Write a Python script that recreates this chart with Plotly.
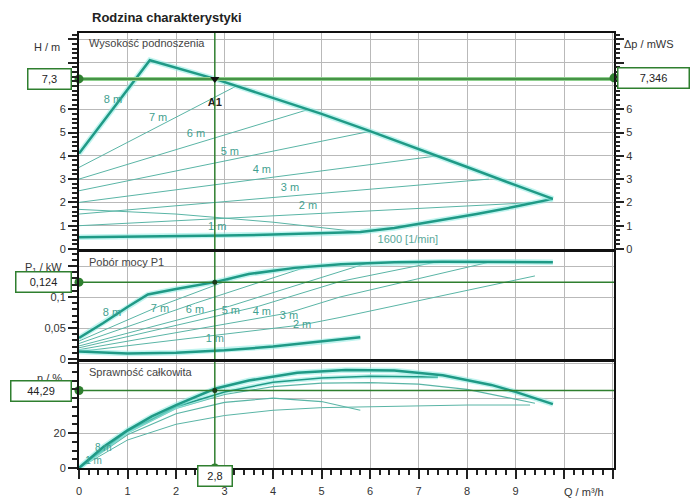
import plotly.graph_objects as go

# ---- operating point A1 ----
Q_OP = 2.8
H_OP = 7.3
DP_OP = 7.346
P_OP = 0.124
ETA_OP = 44.29

# ---- head H(Q) ----
q_h_max = [0, 1.46, 2.8, 4.0, 5.0, 6.0, 7.0, 8.0, 9.0, 9.77]
h_max = [4.1, 8.1, 7.3, 6.5, 5.8, 5.06, 4.3, 3.52, 2.74, 2.15]
q_h_min = [0, 1, 2, 3, 4, 5, 5.8, 6.5, 7.44, 8.2, 8.95, 9.77]
h_min = [0.5, 0.52, 0.55, 0.58, 0.62, 0.67, 0.73, 0.9, 1.22, 1.5, 1.8, 2.15]

q_h_set = {
    "7 m": [0, 3.25], "6 m": [0, 4.75], "5 m": [0, 6.0],
    "4 m": [0, 7.4], "3 m": [0, 8.45], "2 m": [0, 9.45],
}
h_set = {
    "7 m": [3.5, 7.0], "6 m": [3.0, 6.0], "5 m": [2.5, 5.05],
    "4 m": [2.0, 4.0], "3 m": [1.5, 3.0], "2 m": [1.0, 2.0],
}
q_h_low = [0, 2, 4, 5.8]
h_low = [1.7, 1.5, 1.15, 0.73]

# ---- power P1(Q) ----
q_p_max = [0, 0.5, 1.0, 1.42, 2.0, 2.8, 3.5, 4.45, 5.4, 6.5, 7.5, 8.5, 9.77]
p_max = [0.034, 0.058, 0.084, 0.104, 0.113, 0.124, 0.137, 0.147, 0.153, 0.156, 0.157, 0.157, 0.156]
q_p_min = [0, 1, 2, 3, 4, 5, 5.8]
p_min = [0.012, 0.009, 0.010, 0.014, 0.020, 0.028, 0.035]
q_p_set = {
    "7 m": [0, 1.65, 3.25], "6 m": [0, 2.4, 4.75], "5 m": [0, 3.1, 6.0],
    "4 m": [0, 3.7, 5.38, 7.4], "3 m": [0, 4.3, 5.38, 8.5], "2 m": [0, 4.6, 5.38, 9.4],
}
p_set = {
    "7 m": [0.029, 0.085, 0.132], "6 m": [0.025, 0.09, 0.150], "5 m": [0.021, 0.085, 0.156],
    "4 m": [0.018, 0.085, 0.125, 0.157], "3 m": [0.015, 0.074, 0.100, 0.157],
    "2 m": [0.012, 0.055, 0.067, 0.134],
}

# ---- overall efficiency ----
q_e_max = [0, 0.5, 1, 1.5, 2, 2.8, 3.5, 4.5, 5.5, 6.5, 7.5, 8.5, 9.0, 9.77]
e_max = [0, 12, 21.5, 29.5, 36, 45.3, 50, 54.5, 56, 55.8, 53, 47.5, 43.5, 36.5]
q_e_a = [0, 1, 2, 3, 4, 5, 6, 7, 8, 9.4]
e_a = [0, 20, 34, 42, 46.5, 48.5, 48.8, 48, 45, 37]
q_e_b = [0, 1, 2, 3, 4, 5, 6, 7.4]
e_b = [0, 21, 35, 43.5, 49, 51.5, 52.5, 52]
q_e_c = [0, 1, 2, 3, 4, 5, 6, 7, 8, 9.3]
e_c = [0, 16, 25, 30, 33, 34.5, 35, 35.5, 36, 36]
q_e_d = [0, 1, 2, 3, 4, 5, 5.8]
e_d = [0, 19, 31, 37.5, 40, 38, 33]

# ---- curve labels ----
h_lab_text = ["8 m", "7 m", "6 m", "5 m", "4 m", "3 m", "2 m", "1 m"]
h_lab_q = [0.70, 1.63, 2.41, 3.11, 3.77, 4.35, 4.72, 2.85]
h_lab_h = [6.4, 5.6, 4.94, 4.16, 3.39, 2.62, 1.85, 0.94]
p_lab_text = ["8 m", "7 m", "6 m", "5 m", "4 m", "3 m", "2 m", "1 m"]
p_lab_q = [0.68, 1.67, 2.39, 3.13, 3.77, 4.33, 4.6, 2.8]
p_lab_p = [0.074, 0.081, 0.079, 0.077, 0.076, 0.069, 0.055, 0.032]
e_lab_text = ["8 m", "1 m"]
e_lab_q = [0.5, 0.3]
e_lab_e = [11, 4]

# ---- styling ----
W, HGT = 692, 499
ML, MR, MT, MB = 79, 78, 33, 31
PW, PH = W - ML - MR, HGT - MT - MB
X_MAX = 11.03
Y1_MAX, Y2_MAX, Y3_MAX = 9.27, 0.1726, 60.6

TEAL = "#1f9a86"
TEAL_THIN = "#5ab5a6"
HALO = "rgba(140,235,225,0.55)"
GREEN = "#2f7f2f"
GRID = "#b9b9b9"
TXT = "#333333"
TICK = "#222222"
FONT = "Liberation Sans, Arial, sans-serif"


def fx(px):
    return (px - ML) / PW


def fy(py):
    return (HGT - MB - py) / PH


fig = go.Figure()


def curve(x, y, xa, ya, width, color, halo=False):
    if halo:
        fig.add_trace(go.Scatter(x=x, y=y, xaxis=xa, yaxis=ya, mode="lines",
                                 line=dict(color=HALO, width=width + 3),
                                 hoverinfo="skip", showlegend=False))
    fig.add_trace(go.Scatter(x=x, y=y, xaxis=xa, yaxis=ya, mode="lines",
                             line=dict(color=color, width=width),
                             hoverinfo="skip", showlegend=False))


# head panel
for k in q_h_set:
    curve(q_h_set[k], h_set[k], "x", "y", 1, TEAL_THIN)
curve(q_h_low, h_low, "x", "y", 1, TEAL_THIN)
curve(q_h_min, h_min, "x", "y", 2.5, TEAL, halo=True)
curve(q_h_max, h_max, "x", "y", 2.5, TEAL, halo=True)

# power panel
for k in q_p_set:
    curve(q_p_set[k], p_set[k], "x2", "y2", 1, TEAL_THIN)
curve(q_p_min, p_min, "x2", "y2", 2.5, TEAL, halo=True)
curve(q_p_max, p_max, "x2", "y2", 2.5, TEAL, halo=True)

# efficiency panel
curve(q_e_c, e_c, "x3", "y3", 1, TEAL_THIN)
curve(q_e_d, e_d, "x3", "y3", 1.2, TEAL_THIN)
curve(q_e_a, e_a, "x3", "y3", 1.2, TEAL_THIN)
curve(q_e_b, e_b, "x3", "y3", 1.5, TEAL, halo=True)
curve(q_e_max, e_max, "x3", "y3", 2.5, TEAL, halo=True)

# labels
lab_font = dict(family=FONT, size=11, color="#3f9f8f")
fig.add_trace(go.Scatter(x=h_lab_q, y=h_lab_h, xaxis="x", yaxis="y", mode="text",
                         text=h_lab_text, textfont=lab_font, showlegend=False, hoverinfo="skip"))
fig.add_trace(go.Scatter(x=p_lab_q, y=p_lab_p, xaxis="x2", yaxis="y2", mode="text",
                         text=p_lab_text, textfont=lab_font, showlegend=False, hoverinfo="skip"))
fig.add_trace(go.Scatter(x=e_lab_q, y=e_lab_e, xaxis="x3", yaxis="y3", mode="text",
                         text=e_lab_text, textfont=dict(family=FONT, size=10, color="#3f9f8f"),
                         showlegend=False, hoverinfo="skip"))
fig.add_trace(go.Scatter(x=[6.78], y=[0.39], xaxis="x", yaxis="y", mode="text",
                         text=["1600 [1/min]"], textfont=dict(family=FONT, size=11, color="#5aa89a"),
                         showlegend=False, hoverinfo="skip"))
fig.add_trace(go.Scatter(x=[Q_OP], y=[H_OP - 1.05], xaxis="x", yaxis="y", mode="text",
                         text=["<b>A1</b>"], textfont=dict(family=FONT, size=11, color="#222"),
                         showlegend=False, hoverinfo="skip"))

# operating point guide lines
fig.add_trace(go.Scatter(x=[0, X_MAX], y=[H_OP, H_OP], xaxis="x", yaxis="y", mode="lines",
                         line=dict(color="#8fcf8f", width=4), showlegend=False, hoverinfo="skip"))
fig.add_trace(go.Scatter(x=[0, X_MAX], y=[H_OP, H_OP], xaxis="x", yaxis="y", mode="lines",
                         line=dict(color=GREEN, width=1.5), showlegend=False, hoverinfo="skip"))
fig.add_trace(go.Scatter(x=[0, X_MAX], y=[P_OP, P_OP], xaxis="x2", yaxis="y2", mode="lines",
                         line=dict(color=GREEN, width=1.5), showlegend=False, hoverinfo="skip"))
fig.add_trace(go.Scatter(x=[0, X_MAX], y=[ETA_OP, ETA_OP], xaxis="x3", yaxis="y3", mode="lines",
                         line=dict(color=GREEN, width=1.5), showlegend=False, hoverinfo="skip"))
for xa, ya, top in (("x", "y", Y1_MAX), ("x2", "y2", Y2_MAX), ("x3", "y3", Y3_MAX)):
    fig.add_trace(go.Scatter(x=[Q_OP, Q_OP], y=[0, top], xaxis=xa, yaxis=ya, mode="lines",
                             line=dict(color=GREEN, width=1.5),
                             showlegend=False, hoverinfo="skip"))

dot = dict(color=GREEN, size=9)
fig.add_trace(go.Scatter(x=[0], y=[H_OP], xaxis="x", yaxis="y", mode="markers",
                         marker=dot, cliponaxis=False, showlegend=False, hoverinfo="skip"))
# differential pressure read-out on the right-hand scale
fig.add_trace(go.Scatter(x=[X_MAX], y=[DP_OP], xaxis="x", yaxis="y4", mode="markers",
                         marker=dot, cliponaxis=False, showlegend=False, hoverinfo="skip"))
fig.add_trace(go.Scatter(x=[0], y=[P_OP], xaxis="x2", yaxis="y2", mode="markers",
                         marker=dot, cliponaxis=False, showlegend=False, hoverinfo="skip"))
fig.add_trace(go.Scatter(x=[0, Q_OP], y=[ETA_OP, 0], xaxis="x3", yaxis="y3", mode="markers",
                         marker=dot, cliponaxis=False, showlegend=False, hoverinfo="skip"))
small = dict(color="#1b3b1b", size=5)
fig.add_trace(go.Scatter(x=[Q_OP], y=[P_OP], xaxis="x2", yaxis="y2", mode="markers",
                         marker=small, showlegend=False, hoverinfo="skip"))
fig.add_trace(go.Scatter(x=[Q_OP], y=[ETA_OP], xaxis="x3", yaxis="y3", mode="markers",
                         marker=small, showlegend=False, hoverinfo="skip"))
fig.add_trace(go.Scatter(x=[Q_OP], y=[H_OP], xaxis="x", yaxis="y", mode="markers",
                         marker=dict(color="#111", size=8, symbol="triangle-down"),
                         showlegend=False, hoverinfo="skip"))

# ---- axes ----
tick_font = dict(family=FONT, size=11, color=TXT)
frame = dict(showline=True, linecolor="#111", linewidth=2, mirror=True,
             showgrid=True, gridcolor=GRID, gridwidth=1, zeroline=False, automargin=False)
xbase = dict(range=[0, X_MAX], tickmode="linear", tick0=0, dtick=1, **frame)
major = dict(ticks="outside", ticklen=9, tickwidth=2, tickcolor=TICK, tickfont=tick_font)


def minor(step):
    return dict(tickmode="linear", tick0=0, dtick=step, ticks="outside",
                ticklen=5, tickwidth=1.5, tickcolor=TICK, showgrid=False)


d1 = [fy(249), 1.0]
d2 = [fy(359), fy(252)]
d3 = [0.0, fy(362)]

fig.update_layout(
    separators=", ",
    xaxis=dict(anchor="y", showticklabels=False, ticks="", **xbase),
    xaxis2=dict(anchor="y2", matches="x", showticklabels=False, ticks="", **xbase),
    xaxis3=dict(anchor="y3", matches="x", ticklabelstandoff=3,
                labelalias={"10": "", "11": ""}, minor=minor(0.2), **major, **xbase),
    yaxis=dict(domain=d1, anchor="x", range=[0, Y1_MAX], tickmode="linear", tick0=0, dtick=1,
               labelalias={"7": "", "8": "", "9": ""}, minor=minor(0.2), **major, **frame),
    yaxis4=dict(overlaying="y", side="right", anchor="x", range=[0, Y1_MAX],
                tickmode="linear", tick0=0, dtick=1, labelalias={"7": "", "8": "", "9": ""},
                minor=minor(0.2), showgrid=False, zeroline=False, showline=False,
                automargin=False, **major),
    yaxis2=dict(domain=d2, anchor="x2", range=[0, Y2_MAX], tickmode="linear", tick0=0, dtick=0.05,
                labelalias={"0,15": ""}, minor=minor(0.01), **major, **frame),
    yaxis3=dict(domain=d3, anchor="x3", range=[0, Y3_MAX], tickmode="linear", tick0=0, dtick=20,
                labelalias={"60": ""}, minor=minor(5), **major, **frame),
)

# ---- text annotations ----
ann = []


def text(x, y, s, xanchor="left", size=11, color=TXT, **kw):
    ann.append(dict(x=x, y=y, xref="paper", yref="paper", text=s, showarrow=False,
                    xanchor=xanchor, yanchor="middle",
                    font=dict(family=FONT, size=size, color=color), **kw))


text(fx(90), fy(17), "<b>Rodzina charakterystyki</b>", size=13, color="#222")
text(fx(87), fy(43), "Wysokość podnoszenia", color="#444")
text(fx(87), fy(262), "Pobór mocy P1", color="#444")
text(fx(87), fy(372), "Sprawność całkowita", color="#444")
text(fx(62), fy(47), "H / m", xanchor="right")
text(fx(622), fy(44), "Δp / mWS", xanchor="left")
text(fx(64), fy(268), "P<sub>1</sub> / kW", xanchor="right")
text(fx(64), fy(378), "η / %", xanchor="right")
text(fx(562), fy(492), "Q / m³/h", xanchor="left")


def box(x, y, s, width, xref="paper", yref="paper", xanchor="right"):
    ann.append(dict(x=x, y=y, xref=xref, yref=yref, text=s, showarrow=False,
                    xanchor=xanchor, yanchor="middle", width=width, height=15,
                    bgcolor="white", bordercolor=GREEN, borderwidth=1.5, borderpad=2,
                    font=dict(family=FONT, size=11, color="#222")))


box(fx(72), H_OP, "7,3", 38, yref="y")
box(fx(617), DP_OP, "7,346", 66, yref="y4", xanchor="left")
box(fx(72), P_OP, "0,124", 50, yref="y2")
box(fx(72), ETA_OP, "44,29", 55, yref="y3")
box(Q_OP, fy(476), "2,8", 29, xref="x3", xanchor="center")

fig.update_layout(
    annotations=ann,
    width=W, height=HGT, autosize=False,
    margin=dict(l=ML, r=MR, t=MT, b=MB, pad=0, autoexpand=False),
    paper_bgcolor="white", plot_bgcolor="white",
    font=dict(family=FONT, size=11, color=TXT),
    showlegend=False,
)

fig.write_html("out.html")
